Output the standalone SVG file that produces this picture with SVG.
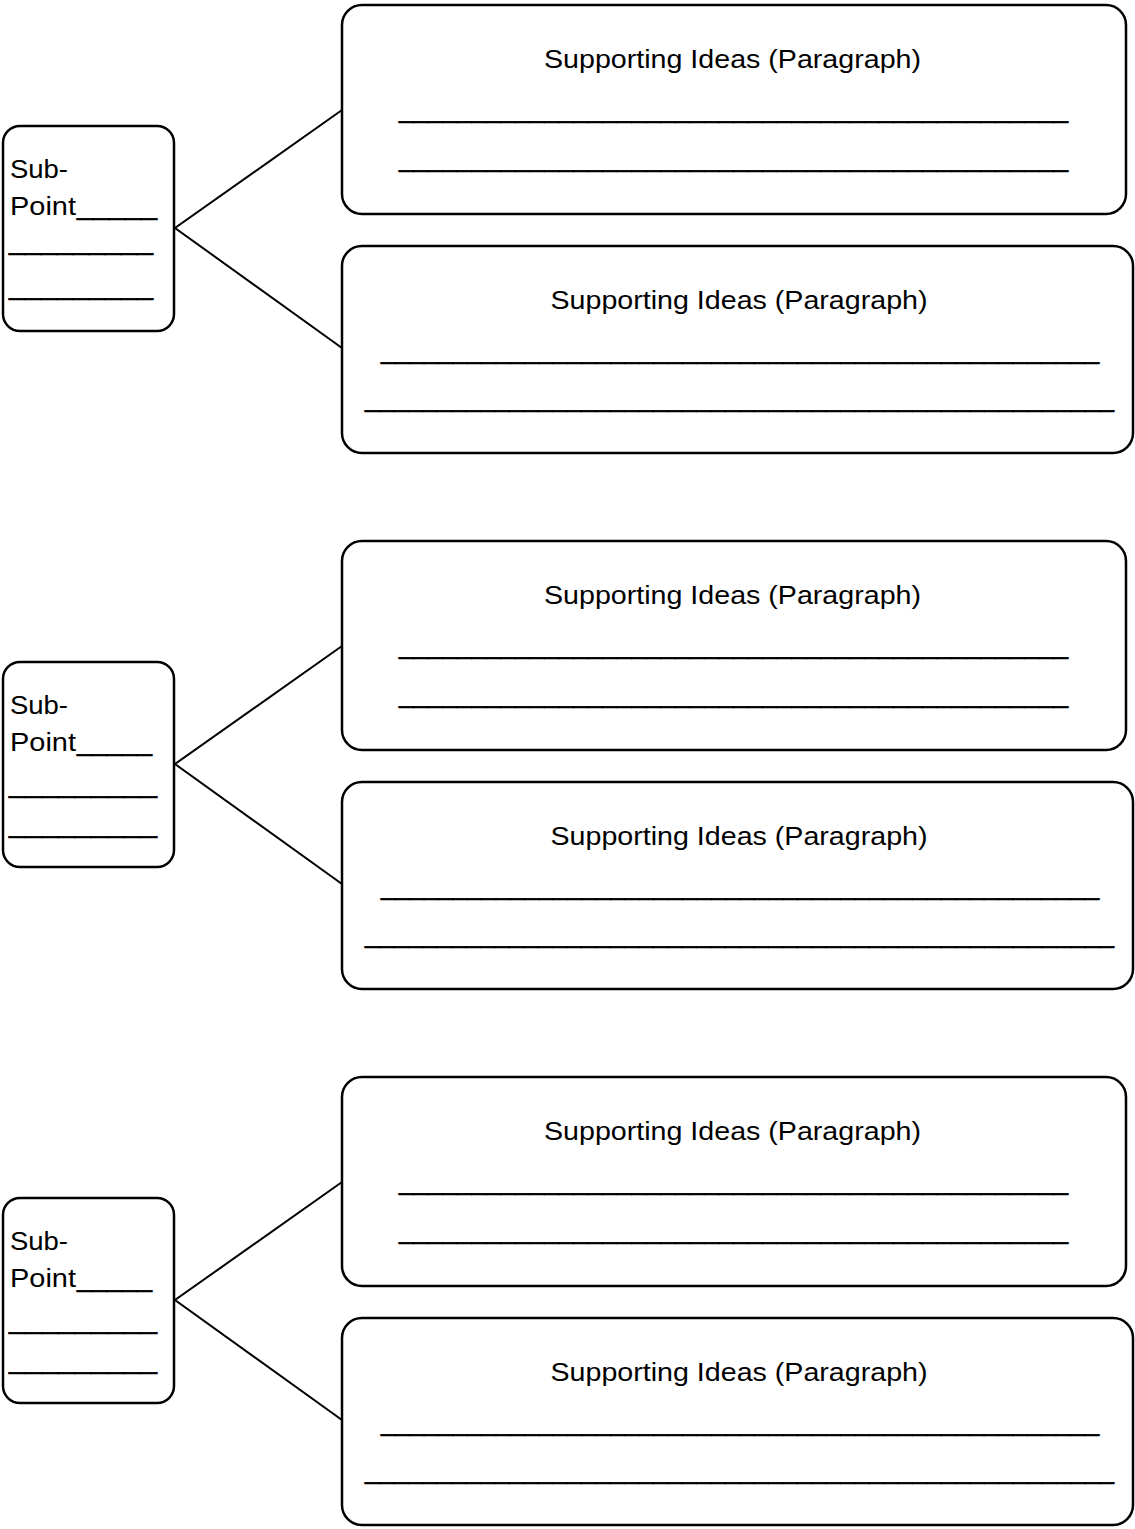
<svg xmlns="http://www.w3.org/2000/svg" width="1135" height="1529" viewBox="0 0 1135 1529">
  <style>
    .box { fill: #ffffff; stroke: #000000; stroke-width: 2.5; }
    .link { fill: none; stroke: #000000; stroke-width: 2; }
    .t { font-family: "Liberation Sans", "Open Sans", sans-serif; font-size: 25px; fill: #000000; }
    .u { stroke: #000000; stroke-width: 0.6; }
    .mid { text-anchor: middle; }
  </style>

  <!-- connectors: each sub-point card fans out to its two paragraph cards -->
  <g id="connectors">
    <polyline class="link" points="342,110 175,228 342,348"/>
    <polyline class="link" points="342,646 175,764 342,884"/>
    <polyline class="link" points="342,1182 175,1300 342,1420"/>
  </g>

  <!-- section 1 -->
  <g id="sub-point-1">
    <rect class="box" x="3" y="126" width="171" height="205" rx="17"/>
    <text class="t" x="10" y="178" textLength="58" lengthAdjust="spacingAndGlyphs">Sub-</text>
    <text class="t" y="215"><tspan x="10" textLength="66" lengthAdjust="spacingAndGlyphs">Point</tspan><tspan class="u" x="77" textLength="80" lengthAdjust="spacingAndGlyphs">_____</tspan></text>
    <text class="t u" x="9" y="250" textLength="144" lengthAdjust="spacingAndGlyphs">_________</text>
    <text class="t u" x="9" y="295" textLength="144" lengthAdjust="spacingAndGlyphs">_________</text>
  </g>
  <g id="paragraph-1a">
    <rect class="box" x="342" y="5" width="784" height="209" rx="20"/>
    <text class="t mid" x="732.5" y="68" textLength="377" lengthAdjust="spacingAndGlyphs">Supporting Ideas (Paragraph)</text>
    <text class="t u" x="399" y="118" textLength="669" lengthAdjust="spacingAndGlyphs">______________________________________________</text>
    <text class="t u" x="399" y="167" textLength="669" lengthAdjust="spacingAndGlyphs">______________________________________________</text>
  </g>
  <g id="paragraph-1b">
    <rect class="box" x="342" y="246" width="791" height="207" rx="20"/>
    <text class="t mid" x="739" y="309" textLength="377" lengthAdjust="spacingAndGlyphs">Supporting Ideas (Paragraph)</text>
    <text class="t u" x="381" y="359" textLength="718" lengthAdjust="spacingAndGlyphs">__________________________________________________</text>
    <text class="t u" x="365" y="407" textLength="749" lengthAdjust="spacingAndGlyphs">____________________________________________________</text>
  </g>

  <!-- section 2 -->
  <g id="sub-point-2">
    <rect class="box" x="3" y="662" width="171" height="205" rx="17"/>
    <text class="t" x="10" y="714" textLength="58" lengthAdjust="spacingAndGlyphs">Sub-</text>
    <text class="t" y="751"><tspan x="10" textLength="66" lengthAdjust="spacingAndGlyphs">Point</tspan><tspan class="u" x="77" textLength="75" lengthAdjust="spacingAndGlyphs">_____</tspan></text>
    <text class="t u" x="9" y="793" textLength="148" lengthAdjust="spacingAndGlyphs">_________</text>
    <text class="t u" x="9" y="833" textLength="148" lengthAdjust="spacingAndGlyphs">_________</text>
  </g>
  <g id="paragraph-2a">
    <rect class="box" x="342" y="541" width="784" height="209" rx="20"/>
    <text class="t mid" x="732.5" y="604" textLength="377" lengthAdjust="spacingAndGlyphs">Supporting Ideas (Paragraph)</text>
    <text class="t u" x="399" y="654" textLength="669" lengthAdjust="spacingAndGlyphs">______________________________________________</text>
    <text class="t u" x="399" y="703" textLength="669" lengthAdjust="spacingAndGlyphs">______________________________________________</text>
  </g>
  <g id="paragraph-2b">
    <rect class="box" x="342" y="782" width="791" height="207" rx="20"/>
    <text class="t mid" x="739" y="845" textLength="377" lengthAdjust="spacingAndGlyphs">Supporting Ideas (Paragraph)</text>
    <text class="t u" x="381" y="895" textLength="718" lengthAdjust="spacingAndGlyphs">__________________________________________________</text>
    <text class="t u" x="365" y="943" textLength="749" lengthAdjust="spacingAndGlyphs">____________________________________________________</text>
  </g>

  <!-- section 3 -->
  <g id="sub-point-3">
    <rect class="box" x="3" y="1198" width="171" height="205" rx="17"/>
    <text class="t" x="10" y="1250" textLength="58" lengthAdjust="spacingAndGlyphs">Sub-</text>
    <text class="t" y="1287"><tspan x="10" textLength="66" lengthAdjust="spacingAndGlyphs">Point</tspan><tspan class="u" x="77" textLength="75" lengthAdjust="spacingAndGlyphs">_____</tspan></text>
    <text class="t u" x="9" y="1329" textLength="148" lengthAdjust="spacingAndGlyphs">_________</text>
    <text class="t u" x="9" y="1369" textLength="148" lengthAdjust="spacingAndGlyphs">_________</text>
  </g>
  <g id="paragraph-3a">
    <rect class="box" x="342" y="1077" width="784" height="209" rx="20"/>
    <text class="t mid" x="732.5" y="1140" textLength="377" lengthAdjust="spacingAndGlyphs">Supporting Ideas (Paragraph)</text>
    <text class="t u" x="399" y="1190" textLength="669" lengthAdjust="spacingAndGlyphs">______________________________________________</text>
    <text class="t u" x="399" y="1239" textLength="669" lengthAdjust="spacingAndGlyphs">______________________________________________</text>
  </g>
  <g id="paragraph-3b">
    <rect class="box" x="342" y="1318" width="791" height="207" rx="20"/>
    <text class="t mid" x="739" y="1381" textLength="377" lengthAdjust="spacingAndGlyphs">Supporting Ideas (Paragraph)</text>
    <text class="t u" x="381" y="1431" textLength="718" lengthAdjust="spacingAndGlyphs">__________________________________________________</text>
    <text class="t u" x="365" y="1479" textLength="749" lengthAdjust="spacingAndGlyphs">____________________________________________________</text>
  </g>
</svg>
